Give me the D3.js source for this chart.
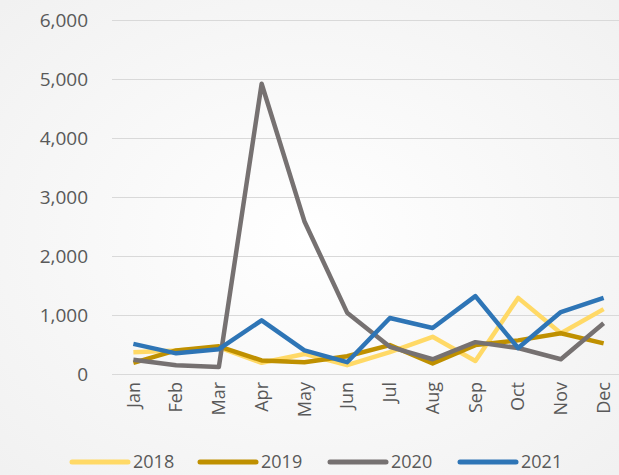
<!DOCTYPE html>
<html>
<head>
<meta charset="utf-8">
<script src="https://cdnjs.cloudflare.com/ajax/libs/d3/7.8.5/d3.min.js"></script>
<style>
  body { margin: 0; }
  svg { display: block; }
</style>
</head>
<body>
<script>
  // chart values
  var months = ["Jan","Feb","Mar","Apr","May","Jun","Jul","Aug","Sep","Oct","Nov","Dec"];
  var years = ["2018","2019","2020","2021"];
  var v2018 = [370, 400, 450, 190, 340, 150, 370, 630, 220, 1290, 690, 1100];
  var v2019 = [190, 400, 470, 230, 200, 300, 490, 180, 490, 570, 690, 520];
  var v2020 = [240, 150, 120, 4920, 2590, 1040, 460, 250, 540, 440, 250, 860];
  var v2021 = [510, 350, 420, 910, 400, 200, 950, 780, 1320, 440, 1050, 1290];
  var yTicks = [0, 1000, 2000, 3000, 4000, 5000, 6000];
  var colors = ["#FFD966", "#BF9000", "#767171", "#2E75B6"];

  var series = [v2018, v2019, v2020, v2021];

  var width = 619, height = 475;
  // plot box (note: "top" is taken by window.top)
  var plotL = 112, plotR = 625, plotT = 20, plotB = 374;

  var svg = d3.select("body").append("svg")
      .attr("width", width)
      .attr("height", height);

  var grad = svg.append("defs").append("radialGradient")
      .attr("id", "bg").attr("cx", "50%").attr("cy", "50%").attr("r", "70%");
  grad.append("stop").attr("offset", "0%").attr("stop-color", "#ffffff");
  grad.append("stop").attr("offset", "100%").attr("stop-color", "#f1f1f1");

  svg.append("rect").attr("width", width).attr("height", height).attr("fill", "url(#bg)");

  var x = d3.scaleBand().domain(months).range([plotL, plotR]);
  var y = d3.scaleLinear().domain([0, 6000]).range([plotB, plotT]);

  // gridlines + y labels
  var yAxis = svg.append("g")
      .attr("transform", "translate(" + plotL + ",0)")
      .call(d3.axisLeft(y).tickValues(yTicks).tickSize(-(plotR - plotL))
        .tickPadding(24).tickFormat(d3.format(",")));
  yAxis.select(".domain").remove();
  yAxis.selectAll("line").attr("stroke", "#d9d9d9").attr("stroke-width", 1);
  yAxis.selectAll("text")
      .attr("fill", "#595959")
      .style("font-family", "'Open Sans', sans-serif")
      .style("font-size", "19px");

  // month labels
  var xAxis = svg.append("g")
      .attr("transform", "translate(0," + plotB + ")")
      .call(d3.axisBottom(x).tickSize(0));
  xAxis.select(".domain").remove();
  xAxis.selectAll("text")
      .attr("fill", "#595959")
      .style("font-family", "'Open Sans', sans-serif")
      .style("font-size", "18px")
      .attr("text-anchor", "end")
      .attr("dy", "0.35em")
      .attr("transform", "translate(0,8) rotate(-90)")
      .attr("x", 0).attr("y", 0);

  var line = d3.line()
      .x(function(d, i) { return x(months[i]) + x.bandwidth() / 2; })
      .y(function(d) { return y(d); });

  svg.selectAll(".series")
      .data(series)
      .enter().append("path")
      .attr("class", "series")
      .attr("d", line)
      .attr("fill", "none")
      .attr("stroke", function(d, i) { return colors[i]; })
      .attr("stroke-width", 4.5)
      .attr("stroke-linejoin", "round");

  // legend
  var legX = [72, 200, 330, 460];
  var leg = svg.selectAll(".leg")
      .data(years)
      .enter().append("g")
      .attr("class", "leg")
      .attr("transform", function(d, i) { return "translate(" + legX[i] + ",462)"; });
  leg.append("line")
      .attr("x1", 0).attr("x2", 56)
      .attr("stroke", function(d, i) { return colors[i]; })
      .attr("stroke-width", 5)
      .attr("stroke-linecap", "round");
  leg.append("text")
      .attr("x", 61).attr("dy", "0.35em")
      .attr("fill", "#595959")
      .style("font-family", "'Open Sans', sans-serif")
      .style("font-size", "18px")
      .text(function(d) { return d; });
</script>
</body>
</html>
